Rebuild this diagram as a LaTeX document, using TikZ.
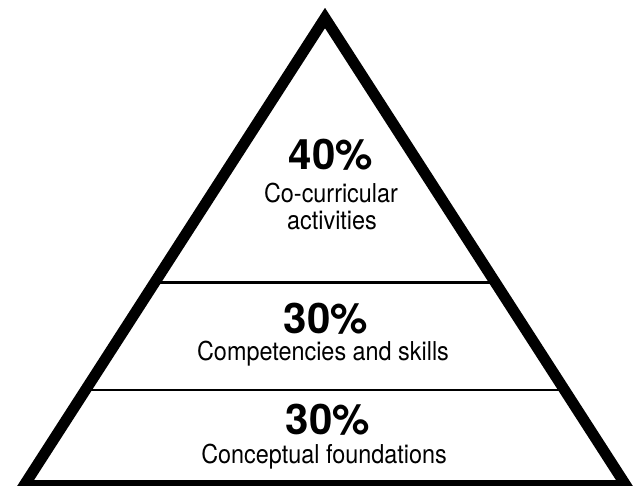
\documentclass[tikz,border=0pt]{standalone}
\usepackage{fontspec}
\setmainfont{TeX Gyre Heros}
\newfontfamily\tierfont{TeX Gyre Heros}[FakeStretch=0.9]
\newcommand{\pctsize}{\fontsize{42}{42}\selectfont\bfseries}
\newcommand{\tiersize}{\tierfont\fontsize{26}{27}\selectfont}
\usetikzlibrary{calc}

\begin{document}
\begin{tikzpicture}[x=1pt, y=-1pt,
    pct/.style={anchor=base, font=\pctsize},
    tier/.style={anchor=base, font=\tiersize},
    divider/.style={line width=2.5pt}]
	\useasboundingbox (0,0) rectangle (642,485);
	\clip (0,0) rectangle (642,485);

	% Corners
	\coordinate (apex) at (325,18);
	\coordinate (left) at (24,485.5);
	\coordinate (right) at (626,485.5);

	% Dividers
	\draw[divider] ($(apex)!0.5658!(left)$) -- ($(apex)!0.5658!(right)$);
	\draw[divider] ($(apex)!0.7957!(left)$) -- ($(apex)!0.7957!(right)$);

	% Pyramid
	\draw[line width=11pt, miter limit=10] (apex) -- (left) -- (right) -- cycle;

	% Top tier
	\node[pct] (topPct) at (331,169) {40\%};
	\node[tier] (topLine1) at (331,202) {Co-curricular};
	\node[tier] (topLine2) at (332,229) {activities};

	% Middle tier
	\node[pct] (midPct) at (326,333) {30\%};
	\node[tier] (midLine) at (323,360) {Competencies and skills};

	% Bottom tier
	\node[pct] (lowPct) at (328,434) {30\%};
	\node[tier] (lowLine) at (324,463) {Conceptual foundations};
\end{tikzpicture}
\end{document}
